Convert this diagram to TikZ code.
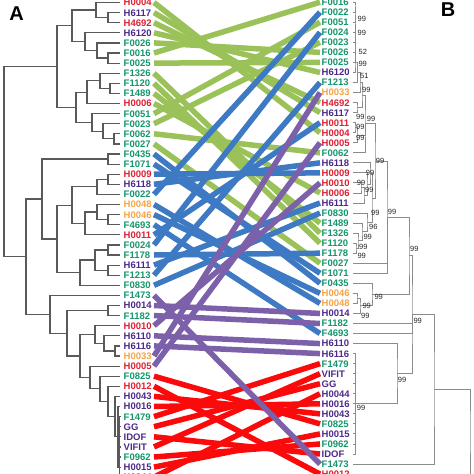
\documentclass[tikz,border=0pt]{standalone}
\usepackage{fontspec}
\setmainfont{Liberation Sans}
\usetikzlibrary{calc}

\definecolor{lred}{RGB}{222,32,52}
\definecolor{lpurple}{RGB}{78,42,138}
\definecolor{lgreen}{RGB}{22,150,108}
\definecolor{lorange}{RGB}{245,165,70}
\definecolor{kgreen}{RGB}{155,194,88}
\definecolor{kblue}{RGB}{62,122,196}
\definecolor{kpurple}{RGB}{124,96,170}
\definecolor{kred}{RGB}{250,10,10}

\tikzset{
  lab/.style={anchor=west, inner sep=0pt, font=\fontsize{9.5}{10}\selectfont\bfseries,
    text height=6.8pt, text depth=0pt},
  boot/.style={anchor=west, inner sep=0pt, font=\fontsize{7.5}{8}\selectfont, text=black!85},
  panel/.style={inner sep=0pt, font=\fontsize{20}{20}\selectfont\bfseries},
  lbranch/.style={draw=black!65, line width=1.2pt},
  rbranch/.style={draw=black!45, line width=0.9pt},
  link/.style={line width=5.5pt},
}

% clade: [style]{name}{x}{child}{child}
\newcommand\clade[5][lbranch]{%
  \path let \p1=(#4), \p2=(#5), \p3=(#3,0) in (\x3,{0.5*(\y1+\y2)}) coordinate (#2);
  \draw[#1] (#4) -| (#2) |- (#5);}
% extra child hung on a clade
\newcommand\addtip[3][lbranch]{\draw[#1] (#3) -| (#2);}

\begin{document}
\begin{tikzpicture}[x=1pt, y=-1pt]
  \fill[white] (0,0) rectangle (474,474);
  \useasboundingbox (0,0) rectangle (474,474);
  \clip (0,0) rectangle (474,474);

  % left tips
  \foreach \i/\t/\c in {1/H0004/lred, 2/H6117/lpurple, 3/H4692/lred, 4/H6120/lpurple,
    5/F0026/lgreen, 6/F0016/lgreen, 7/F0025/lgreen, 8/F1326/lgreen, 9/F1120/lgreen,
    10/F1489/lgreen, 11/H0006/lred, 12/F0051/lgreen, 13/F0023/lgreen, 14/F0062/lgreen,
    15/F0027/lgreen, 16/F0435/lgreen, 17/F1071/lgreen, 18/H0009/lred, 19/H6118/lpurple,
    20/F0022/lgreen, 21/H0048/lorange, 22/H0046/lorange, 23/F4693/lgreen, 24/H0011/lred,
    25/F0024/lgreen, 26/F1178/lgreen, 27/H6111/lpurple, 28/F1213/lgreen, 29/F0830/lgreen,
    30/F1473/lgreen, 31/H0014/lpurple, 32/F1182/lgreen, 33/H0010/lred, 34/H6110/lpurple,
    35/H6116/lpurple, 36/H0033/lorange, 37/H0005/lred, 38/F0825/lgreen, 39/H0012/lred,
    40/H0043/lpurple, 41/H0016/lpurple, 42/F1479/lgreen, 43/GG/lpurple, 44/IDOF/lpurple,
    45/VIFIT/lpurple, 46/F0962/lgreen, 47/H0015/lpurple, 48/H0044/lpurple}{
    \node[lab, text=\c] (ll\i) at (123.5,{2.5+10.1*(\i-1)}) {\t};
    \coordinate (tl\i) at (120,{2.5+10.1*(\i-1)});
    \coordinate (pl\i) at (154,{2.5+10.1*(\i-1)});
  }

  % right tips
  \foreach \i/\t/\c in {1/F0016/lgreen, 2/F0022/lgreen, 3/F0051/lgreen, 4/F0024/lgreen,
    5/F0023/lgreen, 6/F0026/lgreen, 7/F0025/lgreen, 8/H6120/lpurple, 9/F1213/lgreen,
    10/H0033/lorange, 11/H4692/lred, 12/H6117/lpurple, 13/H0011/lred, 14/H0004/lred,
    15/H0005/lred, 16/F0062/lgreen, 17/H6118/lpurple, 18/H0009/lred, 19/H0010/lred,
    20/H0006/lred, 21/H6111/lpurple, 22/F0830/lgreen, 23/F1489/lgreen, 24/F1326/lgreen,
    25/F1120/lgreen, 26/F1178/lgreen, 27/F0027/lgreen, 28/F1071/lgreen, 29/F0435/lgreen,
    30/H0046/lorange, 31/H0048/lorange, 32/H0014/lpurple, 33/F1182/lgreen, 34/F4693/lgreen,
    35/H6110/lpurple, 36/H6116/lpurple, 37/F1479/lgreen, 38/VIFIT/lpurple, 39/GG/lpurple,
    40/H0044/lpurple, 41/H0016/lpurple, 42/H0043/lpurple, 43/F0825/lgreen, 44/H0015/lpurple,
    45/F0962/lgreen, 46/IDOF/lpurple, 47/F1473/lgreen, 48/H0012/lred}{
    \node[lab, text=\c] (lr\i) at (321.5,{2.2+10.04*(\i-1)}) {\t};
    \coordinate (tr\i) at (353,{2.2+10.04*(\i-1)});
    \coordinate (pr\i) at (320,{2.2+10.04*(\i-1)});
  }

  % tangle links
  \foreach \l/\r in {1/14, 2/12, 3/11, 4/8, 5/6, 6/1, 7/7, 8/24, 9/25, 10/23, 11/20,
    12/3, 13/5, 14/16, 15/27}
    \draw[link, kgreen] (pl\l) -- (pr\r);
  \foreach \l/\r in {16/29, 17/28, 18/18, 19/17, 20/2, 21/31, 22/30, 23/34, 24/13,
    25/4, 26/26, 27/21, 28/9, 29/22}
    \draw[link, kblue] (pl\l) -- (pr\r);
  \foreach \l/\r in {38/43, 39/48, 40/42, 41/41, 42/37, 43/39, 44/46, 45/38, 46/45,
    47/44, 48/40}
    \draw[link, kred] (pl\l) -- (pr\r);
  \foreach \l/\r in {30/47, 31/32, 32/33, 33/19, 34/35, 35/36, 36/10, 37/15}
    \draw[link, kpurple] (pl\l) -- (pr\r);

  % left tree
  \clade{a23}{108}{tl2}{tl3}
  \clade{a13}{96}{tl1}{a23}
  \clade{a67}{108}{tl6}{tl7}
  \clade{a57}{97}{tl5}{a67}
  \clade{a47}{85}{tl4}{a57}
  \clade{a17}{72}{a13}{a47}
  \clade{a910}{110}{tl9}{tl10}
  \clade{a810}{100}{tl8}{a910}
  \clade{a811}{87}{a810}{tl11}
  \clade{a1415}{114}{tl14}{tl15}
  \clade{a1315}{103}{tl13}{a1415}
  \clade{a1215}{92}{tl12}{a1315}
  \clade{a815}{76}{a811}{a1215}
  \clade{a115}{57}{a17}{a815}
  \clade{a1617}{108}{tl16}{tl17}
  \clade{a1819}{108}{tl18}{tl19}
  \clade{a1820}{97}{a1819}{tl20}
  \clade{a2223}{108}{tl22}{tl23}
  \clade{a2123}{97}{tl21}{a2223}
  \clade{a2124}{85}{a2123}{tl24}
  \clade{a1824}{72}{a1820}{a2124}
  \clade{a2526}{108}{tl25}{tl26}
  \clade{a2728}{108}{tl27}{tl28}
  \clade{a2528}{95}{a2526}{a2728}
  \clade{a2529}{80}{a2528}{tl29}
  \clade{a1829}{57}{a1824}{a2529}
  \clade{a1629}{42}{a1617}{a1829}
  \clade{a3132}{108}{tl31}{tl32}
  \clade{a3536}{115}{tl35}{tl36}
  \clade{a3436}{104}{tl34}{a3536}
  \clade{a3336}{95}{tl33}{a3436}
  \clade{b43}{119.5}{tl42}{tl43}
  \clade{b44}{119.5}{b43}{tl44}
  \clade{b45}{119.5}{b44}{tl45}
  \clade{b46}{119.5}{b45}{tl46}
  \clade{b47}{119.5}{b46}{tl47}
  \clade{b48}{119.5}{b47}{tl48}
  \clade{a4148}{118}{tl41}{b48}
  \clade{a4048}{115}{tl40}{a4148}
  \clade{a3948}{108}{tl39}{a4048}
  \clade{a3848}{100}{tl38}{a3948}
  \clade{a3748}{90}{tl37}{a3848}
  \clade{a3348}{80}{a3336}{a3748}
  \clade{a3148}{67}{a3132}{a3348}
  \clade{a3048}{50}{tl30}{a3148}
  \clade{a1648}{26}{a1629}{a3048}
  \clade{aroot}{4}{a115}{a1648}

  % right tree
  \clade[rbranch]{c2}{355}{tr1}{tr2}
  \clade[rbranch]{c3}{355}{c2}{tr3}
  \clade[rbranch]{c4}{355}{c3}{tr4}
  \clade[rbranch]{c5}{355}{c4}{tr5}
  \clade[rbranch]{c6}{355}{c5}{tr6}
  \clade[rbranch]{c7}{355}{c6}{tr7}
  \clade[rbranch]{c8}{355}{c7}{tr8}
  \clade[rbranch]{c9}{357.5}{c8}{tr9}
  \clade[rbranch]{c10}{360}{c9}{tr10}
  \clade[rbranch]{c1112}{357}{tr11}{tr12}
  \clade[rbranch]{c12}{362}{c10}{c1112}
  \clade[rbranch]{c1314}{355}{tr13}{tr14}
  \clade[rbranch]{c1315}{357}{c1314}{tr15}
  \clade[rbranch]{g1}{365}{c12}{tr16}
  \addtip[rbranch]{g1}{c1315}
  \clade[rbranch]{c1920}{361}{tr19}{tr20}
  \clade[rbranch]{c1921}{364}{c1920}{tr21}
  \clade[rbranch]{c1821}{367}{tr18}{c1921}
  \clade[rbranch]{c1721}{370}{tr17}{c1821}
  \clade[rbranch]{c2526}{356}{tr25}{tr26}
  \clade[rbranch]{c2426}{358}{tr24}{c2526}
  \clade[rbranch]{c2326}{362}{tr23}{c2426}
  \clade[rbranch]{c2226}{367}{tr22}{c2326}
  \clade[rbranch]{g23}{372}{c1721}{c2226}
  \clade[rbranch]{gp}{375}{g1}{g23}
  \clade[rbranch]{gq}{387}{gp}{tr28}
  \addtip[rbranch]{gq}{tr27}
  \clade[rbranch]{c3031}{357}{tr30}{tr31}
  \clade[rbranch]{c3032}{360}{c3031}{tr32}
  \clade[rbranch]{g4}{372}{tr29}{c3032}
  \clade[rbranch]{gs}{409}{gq}{g4}
  \clade[rbranch]{gw}{355}{tr36}{tr46}
  \foreach \i in {37,...,45} \addtip[rbranch]{gw}{tr\i};
  \clade[rbranch]{gv}{397}{tr35}{gw}
  \clade[rbranch]{gu}{412}{gs}{gv}
  \addtip[rbranch]{gu}{tr33}
  \addtip[rbranch]{gu}{tr34}
  \clade[rbranch]{gr}{434}{gu}{tr47}
  \clade[rbranch]{gtop}{470}{gr}{tr48}

  % bootstrap values
  \foreach \x/\y/\t [count=\k] in {357.5/19.3/99, 357.5/33.3/99, 358.5/51.7/52,
    358.3/64.3/99, 360/76/51, 362/90/99, 356/117.3/99, 366.7/119/99, 356/127.3/99,
    356/138.3/99, 375.7/161/99, 365.7/172.7/99, 356.7/182.7/99, 365/190/99,
    371/213.3/99, 387.7/212.3/99, 369/226.7/96, 363.3/236.7/99, 359/246.7/99,
    357.3/255.7/99, 410/249/99, 374.3/297.3/99, 362.3/305.7/99, 361/315.7/99,
    413.3/320.7/99, 397.7/380/99, 356.7/408/99}
    \node[boot] (bs\k) at (\x,\y) {\t};

  \node[panel] (pA) at (16.7,13.3) {A};
  \node[panel] (pB) at (448,10) {B};
\end{tikzpicture}
\end{document}
